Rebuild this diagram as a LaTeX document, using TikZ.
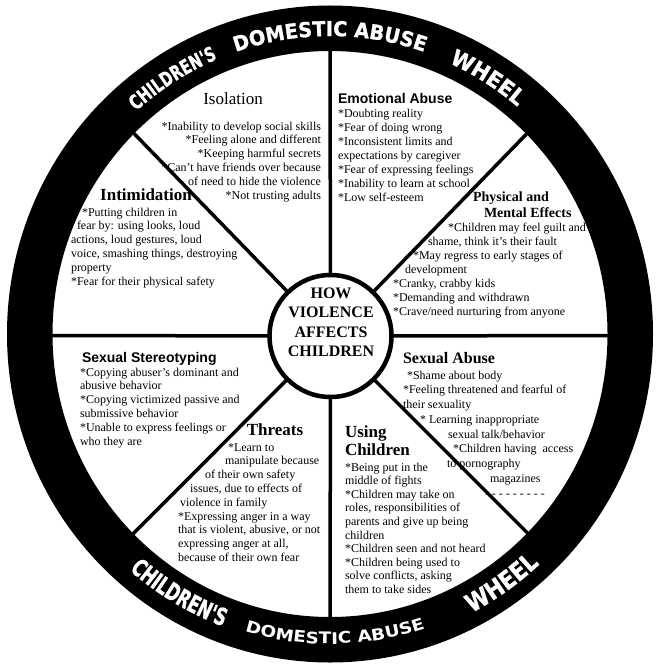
\documentclass[tikz,border=0pt]{standalone}
\usepackage{fontspec}
\setmainfont{Liberation Serif}
\newfontfamily\headsans{Liberation Sans}
\newfontfamily\ringA[FakeStretch=0.72,FakeBold=1.2]{DejaVu Sans}
\newfontfamily\ringB[FakeStretch=0.94,FakeBold=1.2]{DejaVu Sans}
\newfontfamily\ringC[FakeStretch=1.15]{DejaVu Sans}
\newfontfamily\ringD[FakeStretch=0.68,FakeBold=1.2]{DejaVu Sans}
\newfontfamily\ringE[FakeStretch=0.85,FakeBold=1.2]{DejaVu Sans}
\usetikzlibrary{decorations.text}
\begin{document}
\begin{tikzpicture}[x=1pt,y=1pt,
  every node/.style={inner sep=0pt, outer sep=0pt},
  spoke/.style={line width=3.5pt},
  body/.style={align=left, font=\fontsize{12}{13.8}\selectfont},
  sanshead/.style={font=\headsans\bfseries\fontsize{14}{14}\selectfont},
  serifhead/.style={font=\bfseries\fontsize{17}{17}\selectfont}]
\useasboundingbox (0,0) rectangle (660,-666);
\fill[white] (0,0) rectangle (660,-666);
\coordinate (C) at (330,-334);
% hub
\node[circle, draw, line width=4.5pt, fill=white, minimum size=122pt] (hub) at (330.5,-336) {};
% spoke ends (inside ring)
\coordinate (sN) at (330,-30);
\coordinate (sS) at (330,-640);
\coordinate (sW) at (25,-335.5);
\coordinate (sE) at (640,-335.5);
\coordinate (sNW) at (118,-117);
\coordinate (sNE) at (542.5,-117.5);
\coordinate (sSW) at (118.5,-548.5);
\coordinate (sSE) at (542.5,-548);
\foreach \e in {sN,sS,sW,sE,sNW,sNE,sSW,sSE} \draw[spoke] (hub) -- (\e);
% ring
\fill[black, even odd rule] (C) ellipse [x radius=323pt, y radius=328.5pt]
  (C) ellipse [x radius=277.5pt, y radius=283pt];
% ring texts (top)
\path[decorate, decoration={text along path, text align=center, text color=white,
  text={|\ringA\bfseries\fontsize{20}{20}\selectfont|CHILDREN'S}}]
  ([shift={(C)}]152:292pt and 298pt) arc[start angle=152, end angle=92, x radius=292pt, y radius=298pt];
\path[decorate, decoration={text along path, text align=center, text color=white,
  text={|\ringB\bfseries\fontsize{20.5}{20.5}\selectfont|DOMESTIC ABUSE}}]
  ([shift={(C)}]130:292pt and 298pt) arc[start angle=130, end angle=50, x radius=292pt, y radius=298pt];
\path[decorate, decoration={text along path, text align=center, text color=white,
  text={|\ringB\bfseries\fontsize{22}{22}\selectfont|WHEEL}}]
  ([shift={(C)}]88:291pt and 297pt) arc[start angle=88, end angle=28, x radius=291pt, y radius=297pt];
% ring texts (bottom)
\path[decorate, decoration={text along path, text align=center, text color=white,
  text={|\ringD\bfseries\fontsize{24}{24}\selectfont|CHILDREN'S}}]
  ([shift={(C)}]209.5:307pt and 312pt) arc[start angle=209.5, end angle=269.5, x radius=307pt, y radius=312pt];
\path[decorate, decoration={text along path, text align=center, text color=white,
  text={|\ringC\bfseries\fontsize{16}{16}\selectfont|DOMESTIC ABUSE}}]
  ([shift={(C)}]241:304pt and 310pt) arc[start angle=241, end angle=301, x radius=304pt, y radius=310pt];
\path[decorate, decoration={text along path, text align=center, text color=white,
  text={|\ringE\bfseries\fontsize{25}{25}\selectfont|WHEEL}}]
  ([shift={(C)}]275:308pt and 314pt) arc[start angle=275, end angle=335, x radius=308pt, y radius=314pt];
% center text
\node[align=center, anchor=base, font=\bfseries\fontsize{16}{19.4}\selectfont] (hubT) at (331,-356.7) {HOW\\VIOLENCE\\AFFECTS\\CHILDREN};
% Isolation
\node[anchor=base, font=\fontsize{17}{17}\selectfont] (isoT) at (233,-105) {Isolation};
\node[body, align=right, anchor=base east] (isoB) at (321,-199) {*Inability to develop social skills\\*Feeling alone and different\\*Keeping harmful secrets\\*Can't have friends over because\\of need to hide the violence\\*Not trusting adults};
% Emotional Abuse
\node[sanshead, anchor=base west] (emoT) at (338,-103) {Emotional Abuse};
\node[body, anchor=base west, font=\fontsize{12}{14}\selectfont] (emoB) at (338,-201) {*Doubting reality\\*Fear of doing wrong\\*Inconsistent limits and\\expectations by caregiver\\*Fear of expressing feelings\\*Inability to learn at school\\*Low self-esteem};
% Intimidation
\node[serifhead, anchor=base] (intT) at (146,-200) {Intimidation};
\node[body, anchor=base west] (intB) at (71,-285) {\hspace*{11pt}*Putting children in\\\hspace*{6pt}fear by: using looks, loud\\actions, loud gestures, loud\\voice, smashing things, destroying\\property\\*Fear for their physical safety};
% Physical and Mental Effects
\node[anchor=base west, align=left, font=\bfseries\fontsize{14}{16}\selectfont] (phyT) at (473,-217) {Physical and\\\hspace*{11pt}Mental Effects};
\node[body, anchor=base west, font=\fontsize{12}{14}\selectfont] (phyB) at (393,-315) {\hspace*{55pt}*Children may feel guilt and\\\hspace*{35pt}shame, think it's their fault\\\hspace*{20pt}*May regress to early stages of\\\hspace*{12pt}development\\*Cranky, crabby kids\\*Demanding and withdrawn\\*Crave/need nurturing from anyone};
% Sexual Stereotyping
\node[sanshead, anchor=base west] (sstT) at (82,-362) {Sexual Stereotyping};
\node[body, anchor=base west] (sstB) at (80,-445) {*Copying abuser's dominant and\\abusive behavior\\*Copying victimized passive and\\submissive behavior\\*Unable to express feelings or\\who they are};
% Sexual Abuse
\node[anchor=base west, font=\bfseries\fontsize{16}{16}\selectfont] (sabT) at (403,-363) {Sexual Abuse};
\node[body, anchor=base west, font=\fontsize{12}{14.75}\selectfont] (sabB) at (403,-497) {\hspace*{4pt}*Shame about body\\*Feeling threatened and fearful of\\their sexuality\\\hspace*{17pt}* Learning inappropriate\\\hspace*{45pt}sexual talk/behavior\\\hspace*{50pt}*Children having\ \ access\\\hspace*{44pt}to pornography\\\hspace*{87pt}magazines\\\hspace*{82pt}- - - - - - - - -};
% Using Children
\node[anchor=base west, align=left, font=\bfseries\fontsize{17}{18}\selectfont] (uscT) at (345,-455) {Using\\Children};
\node[body, anchor=base west, font=\fontsize{12}{13.6}\selectfont] (uscB) at (345,-593.4) {*Being put in the\\middle of fights\\*Children may take on\\roles, responsibilities of\\parents and give up being\\children\\*Children seen and not heard\\*Children being used to\\solve conflicts, asking\\them to take sides};
% Threats
\node[serifhead, anchor=base] (thrT) at (275,-435) {Threats};
\node[body, anchor=base west] (thrB) at (178,-561.4) {\hspace*{50pt}*Learn to\\\hspace*{47pt}manipulate because\\\hspace*{27pt}of their own safety\\\hspace*{12pt}issues, due to effects of\\\hspace*{2pt}violence in family\\*Expressing anger in a way\\that is violent, abusive, or not\\expressing anger at all,\\because of their own fear};
\end{tikzpicture}
\end{document}
